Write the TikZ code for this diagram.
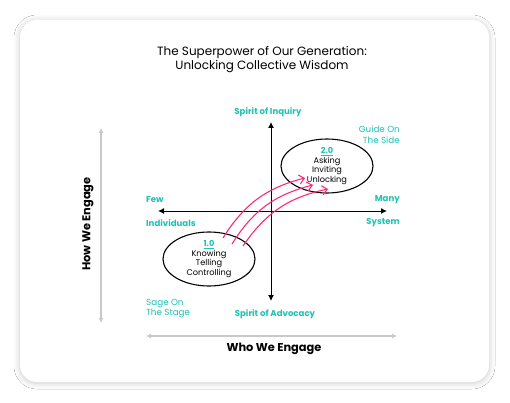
\documentclass[tikz,border=0pt]{standalone}
\usepackage{fontspec}
\setmainfont{Poppins}
\usetikzlibrary{arrows.meta,shapes.geometric,shadows.blur,positioning}
\definecolor{quadteal}{HTML}{1FC2B4}
\definecolor{shiftpink}{HTML}{FF2A77}
\definecolor{guidegray}{HTML}{C9C9C9}
\tikzset{
	axislabel/.style={text=quadteal, font=\fontsize{8.6}{10}\selectfont\bfseries, inner sep=0pt},
	cornerlabel/.style={text=quadteal, font=\fontsize{8.8}{10.5}\selectfont, inner sep=0pt},
	phase/.style={draw, ellipse, line width=1.1pt, minimum width=92pt, minimum height=54pt, align=center, font=\fontsize{8.2}{9.4}\selectfont, inner sep=0pt},
	shiftarrow/.style={draw=shiftpink, line width=1.1pt, -{Straight Barb[length=5pt,width=9pt]}, bend left=22},
	guide/.style={draw=guidegray, line width=1.2pt, {Latex[length=5pt,width=5pt]}-{Latex[length=5pt,width=5pt]}},
	quadaxis/.style={draw=black, line width=1pt, {Latex[length=6pt,width=6pt]}-{Latex[length=6pt,width=6pt]}}
}

\begin{document}
\begin{tikzpicture}[x=1pt, y=-1pt, transform shape]
	\useasboundingbox (0,0) rectangle (510,403);
	\fill[white] (0,0) rectangle (510,403);
	% Card and title:
	\fill[white, rounded corners=17pt, blur shadow={shadow xshift=0pt, shadow yshift=-1pt, shadow blur radius=6pt, shadow opacity=22}] (20,20) rectangle (489,382);
	\node[align=center, font=\fontsize{12}{14}\selectfont] (title) at (262,60) {The Superpower of Our Generation:\\Unlocking Collective Wisdom};
	% Axes of the quadrant:
	\coordinate (inquiry) at (271,122);
	\coordinate (advocacy) at (271,301);
	\coordinate (few) at (158,211);
	\coordinate (many) at (387,211);
	\draw[quadaxis] (inquiry) -- (advocacy);
	\draw[quadaxis] (few) -- (many);
	\node[axislabel] (inq) at (268,112) {Spirit of Inquiry};
	\node[axislabel] (adv) at (275,314) {Spirit of Advocacy};
	\node[axislabel, anchor=west] (fewlbl) at (146,200) {Few};
	\node[axislabel, anchor=west] (indiv) at (146,223) {Individuals};
	\node[axislabel, anchor=east] (manylbl) at (400,200) {Many};
	\node[axislabel, anchor=east] (sys) at (400,223) {System};
	\node[cornerlabel, anchor=north east, align=right] (side) at (400,126) {Guide On\\The Side};
	\node[cornerlabel, anchor=north west, align=left] (stage) at (146,299) {Sage On\\The Stage};
	% Phases:
	\node[phase] (twozero) at (327,166) {\textcolor{quadteal}{\underline{\bfseries 2.0}}\\Asking\\Inviting\\Unlocking};
	\node[phase] (onezero) at (209,259) {\textcolor{quadteal}{\underline{\bfseries 1.0}}\\Knowing\\Telling\\Controlling};
	\coordinate (s1) at (223,238);
	\coordinate (s2) at (232,244);
	\coordinate (s3) at (243,246);
	\coordinate (t1) at (305,178);
	\coordinate (t2) at (313,185);
	\coordinate (t3) at (328,189);
	\draw[shiftarrow] (s1) to (t1);
	\draw[shiftarrow] (s2) to (t2);
	\draw[shiftarrow] (s3) to (t3);
	% Outer guides:
	\coordinate (howtop) at (101,128);
	\coordinate (howbot) at (101,323);
	\coordinate (wholeft) at (146,336);
	\coordinate (whoright) at (397,336);
	\draw[guide] (howtop) -- (howbot);
	\draw[guide] (wholeft) -- (whoright);
	\node[rotate=90, font=\fontsize{11.4}{13}\selectfont\bfseries] (how) at (88,224) {How We Engage};
	\node[font=\fontsize{11.4}{13}\selectfont\bfseries] (who) at (274,349) {Who We Engage};
\end{tikzpicture}
\end{document}
